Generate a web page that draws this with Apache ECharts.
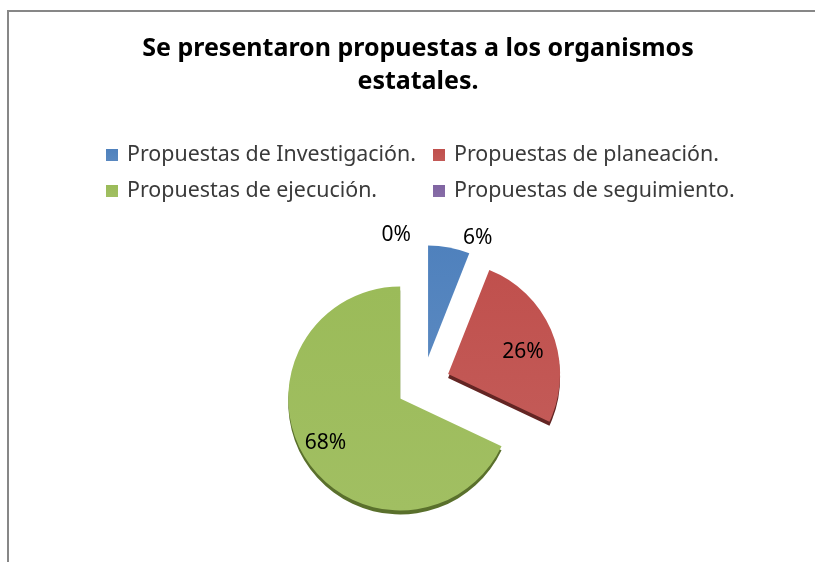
<!DOCTYPE html>
<html>
<head>
<meta charset="utf-8">
<script src="https://cdn.jsdelivr.net/npm/echarts@6/dist/echarts.min.js"></script>
<style>
  html, body { margin: 0; padding: 0; background: #fff; }
  #chart { width: 815px; height: 562px; }
</style>
</head>
<body>
<div id="chart"></div>
<script>
// 数据
const categories = [
  'Propuestas de Investigación.',
  'Propuestas de planeación.',
  'Propuestas de ejecución.',
  'Propuestas de seguimiento.'
]
const values = [6, 26, 68, 0]
const colors = ['#4f81bd', '#c0504d', '#9bbb59', '#8064a2']
const rimColors = ['rgba(0,0,0,0)', '#632523', '#5a702c', 'rgba(0,0,0,0)']

const chart = echarts.init(document.getElementById('chart'))

// 标签位置的微调 (外侧 / 内侧)
const labelTweaks = [
  { position: 'outside' },
  { position: 'inside', padding: [0, 0, 0, 40] },
  { position: 'inside', padding: [0, 50, 0, 0], formatter: '\n{d}%', lineHeight: 26 },
  { position: 'outside' }
]

const pieData = categories.map((name, i) => {
  return {
    name: name,
    value: values[i],
    selected: true,
    itemStyle: {
      color: {
        type: 'linear', x: 0, y: 0, x2: 0, y2: 1,
        colorStops: [
          { offset: 0, color: colors[i] },
          { offset: 1, color: echarts.color.lift(colors[i], 0.06) }
        ]
      },
      shadowColor: rimColors[i],
      shadowOffsetY: 4,
      shadowBlur: 0
    },
    label: labelTweaks[i]
  }
})

const option = {
  backgroundColor: '#fff',
  animation: false,
  title: {
    text: 'Se presentaron propuestas a los organismos\nestatales.',
    left: 418,
    textAlign: 'center',
    top: 32,
    padding: 0,
    textStyle: {
      fontFamily: 'Noto Sans',
      fontWeight: 'bold',
      fontSize: 25,
      lineHeight: 33,
      color: '#000'
    }
  },
  legend: {
    left: 106,
    top: 142,
    width: 660,
    padding: 0,
    itemWidth: 12,
    itemHeight: 12,
    itemGap: 10,
    icon: 'rect',
    selectedMode: false,
    data: categories,
    textStyle: {
      fontFamily: 'Noto Sans',
      fontSize: 21.4,
      color: '#3a3a3a',
      width: 296,
      lineHeight: 26,
      padding: [0, 0, 0, 4]
    }
  },
  graphic: [
    {
      type: 'polyline',
      shape: { points: [[8, 562], [8, 11], [816, 11]] },
      style: { stroke: '#878787', lineWidth: 2, fill: null }
    }
  ],
  series: [
    {
      type: 'pie',
      center: [423, 384],
      radius: 112,
      selectedMode: 'multiple',
      selectedOffset: 27,
      avoidLabelOverlap: false,
      minShowLabelAngle: 0,
      color: colors,
      label: {
        show: true,
        formatter: '{d}%',
        fontFamily: 'Noto Sans',
        fontSize: 21,
        color: '#000'
      },
      labelLine: { show: false, length: 10, length2: 7 },
      emphasis: { disabled: true },
      data: pieData
    }
  ]
}

chart.setOption(option)
</script>
</body>
</html>
